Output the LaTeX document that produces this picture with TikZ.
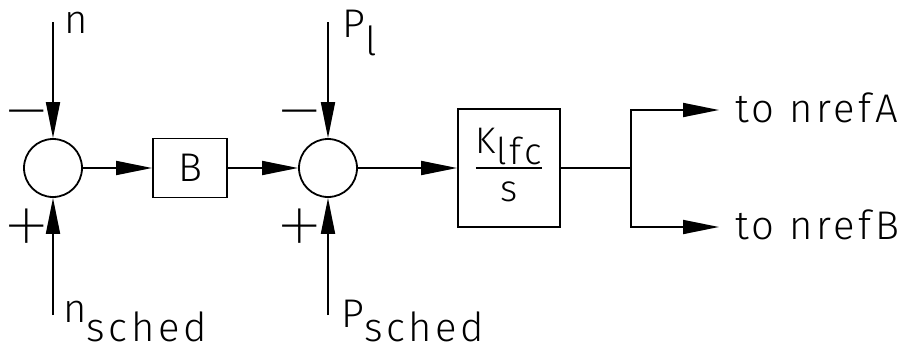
\documentclass[tikz,border=0pt]{standalone}
\usepackage{fontspec}
\setmainfont{Fira Sans}[UprightFont=* Light,LetterSpace=9]
\newfontfamily\lfcthin{Fira Sans}[UprightFont=* Thin]
\usetikzlibrary{arrows.meta,positioning}
\setlength{\arrayrulewidth}{1.8pt}
\newcommand{\lfcfont}{\fontsize{40}{46}\selectfont}
\newcommand{\lfcfrac}{\fontsize{37}{46}\selectfont}
\newcommand{\lfcsub}[2]{\raisebox{-#1}[\height][0pt]{#2}}
\tikzset{
  lfcsum/.style={draw,circle,line width=1.8pt,minimum size=58pt,inner sep=0pt},
  lfcblock/.style={draw,rectangle,line width=1.8pt,inner sep=0pt,align=center,font=\lfcfont},
  lfcflow/.style={-{Triangle[length=36pt,width=14pt]},line width=1.8pt},
  lfcline/.style={line width=1.8pt},
  lfclbl/.style={font=\lfcfont,inner sep=0pt,anchor=base west},
  lfcsign/.style={font=\lfcthin\fontsize{104}{104}\selectfont,inner sep=0pt},
}

\begin{document}
\begin{tikzpicture}[x=1pt,y=-1pt]
  \useasboundingbox (0,0) rectangle (907,351);
  % frequency error summing point and bias
  \node[lfcsum] (S1) at (53,168) {};
  \node[lfcblock,minimum width=74pt,minimum height=59pt] (B) at (190,168) {B};
  \node[lfcsum] (S2) at (328,168) {};
  \node[lfcblock,minimum width=102pt,minimum height=118pt,font=\lfcfrac] (K) at (509,168)
    {\begin{tabular}{@{}c@{}}K\lfcsub{11pt}{lfc}\\\hline s\end{tabular}};

  \coordinate (nIn) at (53,22);
  \coordinate (nSch) at (53,315);
  \coordinate (PIn) at (328,22);
  \coordinate (PSch) at (328,315);
  \coordinate (Br) at (631,168);
  \coordinate (OutA) at (719,110);
  \coordinate (OutB) at (719,227);

  \node[lfclbl] (nLbl) at (64,33) {n};
  \node[lfclbl] (nSchLbl) at (63,322) {n\lfcsub{19pt}{sched}};
  \node[lfclbl] (PLbl) at (342,37) {P\lfcsub{18pt}{l}};
  \node[lfclbl] (PSchLbl) at (341,327) {P\lfcsub{14pt}{sched}};
  \node[lfclbl] (ALbl) at (735,122) {to nrefA};
  \node[lfclbl] (BLbl) at (735,239) {to nrefB};

  \node[lfcsign] (m1) at (27,128) {−};
  \node[lfcsign] (p1) at (27,235) {+};
  \node[lfcsign] (m2) at (300,128) {−};
  \node[lfcsign] (p2) at (300,235) {+};

  \draw[lfcflow] (nIn) -- (S1.north);
  \draw[lfcflow] (nSch) -- (S1.south);
  \draw[lfcflow] (S1) -- (B);
  \draw[lfcflow] (B) -- (S2);
  \draw[lfcflow] (PIn) -- (S2.north);
  \draw[lfcflow] (PSch) -- (S2.south);
  \draw[lfcflow] (S2) -- (K);
  \draw[lfcline] (K.east) -- (Br);
  \draw[lfcflow] (Br) |- (OutA);
  \draw[lfcflow] (Br) |- (OutB);
\end{tikzpicture}
\end{document}
